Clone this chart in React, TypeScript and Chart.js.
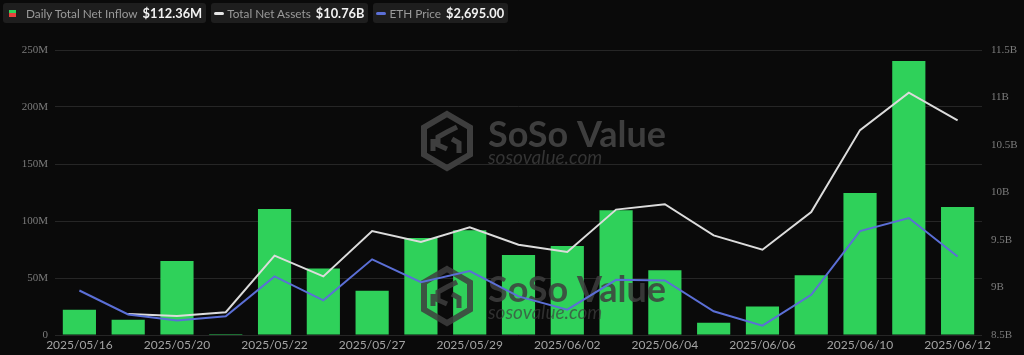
import React, { useEffect, useRef } from 'react';
import { Chart, registerables } from 'chart.js';

Chart.register(...registerables);

const categories = [
  '2025/05/16', '2025/05/19', '2025/05/20', '2025/05/21', '2025/05/22', '2025/05/23',
  '2025/05/27', '2025/05/28', '2025/05/29', '2025/05/30', '2025/06/02', '2025/06/03',
  '2025/06/04', '2025/06/05', '2025/06/06', '2025/06/09', '2025/06/10', '2025/06/11', '2025/06/12',
];
// Daily Total Net Inflow, millions USD
const netInflow = [22.1, 13.4, 64.9, 0.8, 110.5, 58.4, 38.8, 85.0, 91.8, 70.1, 78.0, 109.4, 56.7, 10.7, 25.0, 52.5, 124.6, 240.3, 112.36];
// Total Net Assets, billions USD
const totalNetAssets = [null, 8.72, 8.70, 8.74, 9.335, 9.117, 9.595, 9.479, 9.634, 9.451, 9.373, 9.82, 9.876, 9.549, 9.398, 9.795, 10.657, 11.05, 10.76];
// ETH price, USD
const ethPrice = [2567, 2477, 2454, 2470, 2620, 2530, 2684, 2598, 2640, 2545, 2495, 2607, 2605, 2489, 2435, 2551, 2790, 2839, 2695];

const leftMin = 0;
const leftMax = 250;
const leftStep = 50;
const rightMin = 8.5;
const rightMax = 11.5;
const rightStep = 0.5;
const ethMin = 2400;
const ethMax = 3470;

const legendItems = [
  { label: 'Daily Total Net Inflow', value: '$112.36M', icon: 'bar' },
  { label: 'Total Net Assets', value: '$10.76B', icon: 'white' },
  { label: 'ETH Price', value: '$2,695.00', icon: 'blue' },
];

const GREEN = '#2fd15a';
const WHITE_LINE = '#dcdcdc';
const BLUE_LINE = '#5b6fd6';

function drawWatermark(ctx: CanvasRenderingContext2D, yOff: number, color: string, color2: string) {
  ctx.save();
  const cx = 447;
  const cy = 141 + yOff;
  const rx = 23;
  const ry = 27;
  ctx.strokeStyle = color;
  ctx.lineWidth = 6;
  ctx.lineJoin = 'miter';
  ctx.beginPath();
  ctx.moveTo(cx, cy - ry);
  ctx.lineTo(cx + rx, cy - ry / 2);
  ctx.lineTo(cx + rx, cy + ry / 2);
  ctx.lineTo(cx, cy + ry);
  ctx.lineTo(cx - rx, cy + ry / 2);
  ctx.lineTo(cx - rx, cy - ry / 2);
  ctx.closePath();
  ctx.stroke();
  ctx.lineWidth = 5;
  ctx.beginPath();
  ctx.moveTo(cx + 10, cy - 14);
  ctx.lineTo(cx, cy - 9);
  ctx.lineTo(cx - 9, cy - 4);
  ctx.lineTo(cx - 9, cy + 4);
  ctx.lineTo(cx, cy + 8);
  ctx.moveTo(cx - 14, cy - 2);
  ctx.lineTo(cx - 14, cy + 10);
  ctx.moveTo(cx + 5, cy - 2);
  ctx.lineTo(cx + 12, cy + 2);
  ctx.lineTo(cx + 12, cy + 12);
  ctx.stroke();
  ctx.fillStyle = color;
  ctx.textBaseline = 'alphabetic';
  ctx.textAlign = 'left';
  ctx.font = 'bold 36px Lato, "Open Sans", sans-serif';
  ctx.fillText('SoSo Value', 488, 147 + yOff, 186);
  ctx.fillStyle = color2;
  ctx.font = 'italic 19px Lato, "Open Sans", sans-serif';
  ctx.fillText('sosovalue.com', 488, 164 + yOff, 122);
  ctx.restore();
}

const watermarkPlugin = {
  id: 'sosoWatermark',
  beforeDatasetsDraw(chart: any) {
    drawWatermark(chart.ctx, 0, 'rgba(62,62,62,1)', 'rgba(52,52,52,1)');
  },
  afterDatasetDraw(chart: any, args: any) {
    if (args.index === 0) {
      drawWatermark(chart.ctx, 155, 'rgba(62,62,62,0.85)', 'rgba(62,62,62,0.7)');
    }
  },
};

export default function App() {
  const canvasRef = useRef<HTMLCanvasElement | null>(null);

  useEffect(() => {
    document.body.style.margin = '0';
    document.body.style.background = '#0a0a0a';
    const canvas = canvasRef.current;
    if (!canvas) return;
    const chart = new Chart(canvas, {
      type: 'bar',
      data: {
        labels: categories,
        datasets: [
          {
            type: 'bar',
            label: 'Daily Total Net Inflow',
            data: netInflow,
            backgroundColor: GREEN,
            borderWidth: 0,
            yAxisID: 'y',
            categoryPercentage: 0.68,
            barPercentage: 1,
            order: 10,
          },
          {
            type: 'line',
            label: 'Total Net Assets',
            data: totalNetAssets as any,
            borderColor: WHITE_LINE,
            borderWidth: 2,
            pointRadius: 0,
            tension: 0,
            yAxisID: 'y1',
            order: 2,
          },
          {
            type: 'line',
            label: 'ETH Price',
            data: ethPrice,
            borderColor: BLUE_LINE,
            borderWidth: 2,
            pointRadius: 0,
            tension: 0,
            yAxisID: 'y2',
            order: 1,
          },
        ],
      },
      options: {
        responsive: false,
        animation: false,
        devicePixelRatio: 1,
        layout: { padding: { top: 50, left: 0, right: 0, bottom: 0 } },
        plugins: {
          legend: { display: false },
          tooltip: { enabled: false },
        },
        scales: {
          x: {
            offset: true,
            grid: { display: false, drawTicks: false },
            border: { display: false },
            ticks: {
              autoSkip: false,
              maxRotation: 0,
              padding: 3,
              color: '#a3a3a3',
              font: { family: 'Lato, "Open Sans", sans-serif', size: 12 },
              callback: (_v: any, i: number) => (i % 2 === 0 ? categories[i] : ''),
            },
            afterFit: (s: any) => { s.height = 20; },
          },
          y: {
            position: 'left',
            min: leftMin,
            max: leftMax,
            border: { display: false },
            grid: { color: '#262626', lineWidth: 1, drawTicks: false },
            ticks: {
              stepSize: leftStep,
              padding: 7,
              color: '#7c7c7c',
              font: { family: '"Liberation Serif", "DejaVu Serif", serif', size: 11 },
              callback: (v: any) => (Number(v) === 0 ? '0' : `${v}M`),
            },
            afterFit: (s: any) => { s.width = 55; },
          },
          y1: {
            position: 'right',
            min: rightMin,
            max: rightMax,
            border: { display: false },
            grid: { display: false, drawTicks: false },
            ticks: {
              stepSize: rightStep,
              padding: 9,
              color: '#7c7c7c',
              font: { family: '"Liberation Serif", "DejaVu Serif", serif', size: 11 },
              callback: (v: any) => `${Number(v)}B`,
            },
            afterFit: (s: any) => { s.width = 42; },
          },
          y2: {
            display: false,
            min: ethMin,
            max: ethMax,
          },
        },
      } as any,
      plugins: [watermarkPlugin],
    });
    return () => chart.destroy();
  }, []);

  return (
    <div style={{ position: 'relative', width: 1024, height: 355, background: '#0a0a0a', overflow: 'hidden' }}>
      <canvas ref={canvasRef} width={1024} height={355} style={{ position: 'absolute', left: 0, top: 0 }} />
      <div style={{ position: 'absolute', left: 3, top: 3, display: 'flex', gap: 5, fontFamily: 'Lato, "Open Sans", sans-serif' }}>
        {legendItems.map((it) => (
          <div
            key={it.label}
            style={{
              display: 'flex',
              alignItems: 'center',
              height: 20,
              padding: '0 4px 0 3px',
              background: '#1e1e1e',
              borderRadius: 3,
              whiteSpace: 'nowrap',
            }}
          >
            {it.icon === 'bar' ? (
              <span style={{ display: 'inline-block', width: 7, height: 7, marginLeft: 3, marginRight: 10 }}>
                <span style={{ display: 'block', width: 7, height: 3.5, background: GREEN }} />
                <span style={{ display: 'block', width: 7, height: 3.5, background: '#e8413c' }} />
              </span>
            ) : (
              <span
                style={{
                  display: 'inline-block',
                  width: 10,
                  height: 3,
                  borderRadius: 1.5,
                  background: it.icon === 'white' ? '#e6e6e6' : BLUE_LINE,
                  marginLeft: 0,
                  marginRight: 3,
                }}
              />
            )}
            <span style={{ color: '#9a9a9a', fontSize: 11.8 }}>{it.label}</span>
            <span style={{ color: '#f2f2f2', fontSize: 12.8, fontWeight: 700, marginLeft: 5 }}>{it.value}</span>
          </div>
        ))}
      </div>
    </div>
  );
}
